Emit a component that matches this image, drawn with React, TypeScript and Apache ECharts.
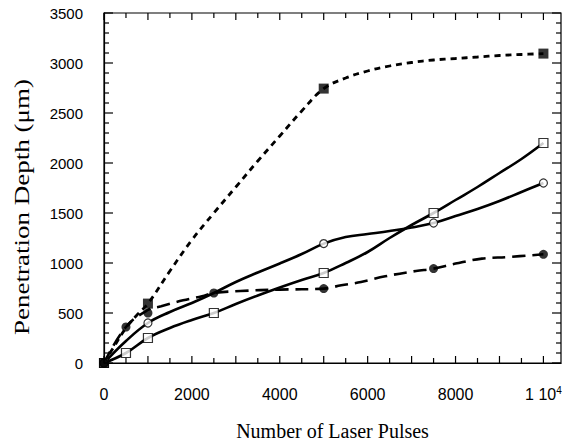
import React, { useEffect, useRef } from "react";
import * as echarts from "echarts";

// Marker data
const filledSquareX = [0, 1000, 5000, 10000];
const filledSquareY = [0, 594, 2744, 3094];

const openSquareX = [0, 500, 1000, 2500, 5000, 7500, 10000];
const openSquareY = [0, 100, 250, 500, 900, 1500, 2200];

const openCircleX = [0, 1000, 5000, 7500, 10000];
const openCircleY = [0, 400, 1194, 1400, 1800];

const filledCircleX = [0, 500, 1000, 2500, 5000, 7500, 10000];
const filledCircleY = [0, 360, 500, 700, 744, 944, 1087];

// Fitted curves
const dottedCurveX = [0, 250, 500, 750, 1000, 1500, 2000, 2500, 3000, 3500, 4000, 4500, 5000, 5500, 6000, 6500, 7000, 7500, 8000, 8500, 9000, 9500, 10000];
const dottedCurveY = [0, 180, 350, 480, 594, 920, 1230, 1500, 1760, 2020, 2270, 2520, 2744, 2850, 2920, 2970, 3005, 3030, 3045, 3060, 3075, 3085, 3094];

const squareCurveX = [0, 500, 1000, 1500, 2000, 2500, 3000, 3500, 4000, 4500, 5000, 5500, 6000, 6500, 7000, 7500, 8000, 8500, 9000, 9500, 10000];
const squareCurveY = [0, 100, 250, 350, 430, 500, 590, 675, 755, 830, 900, 1000, 1110, 1250, 1380, 1500, 1630, 1760, 1900, 2040, 2200];

const circleCurveX = [0, 500, 1000, 1500, 2000, 2500, 3000, 3500, 4000, 4500, 5000, 5500, 6000, 6500, 7000, 7500, 8000, 8500, 9000, 9500, 10000];
const circleCurveY = [0, 220, 400, 510, 600, 700, 810, 905, 995, 1090, 1194, 1260, 1290, 1320, 1355, 1400, 1470, 1540, 1620, 1710, 1800];

const dashedCurveX = [0, 500, 1000, 1300, 1800, 2230, 2500, 3100, 4000, 5000, 5400, 5850, 6400, 7100, 7500, 8000, 8600, 9200, 10000];
const dashedCurveY = [0, 360, 530, 567, 627, 667, 700, 720, 734, 744, 777, 810, 867, 920, 944, 994, 1044, 1060, 1087];

// Axis values
const X_MAX = 10400;
const Y_MAX = 3500;
const xLabelValues = [0, 2000, 4000, 6000, 8000, 10000];
const xTickValues = [0, 500, 1000, 1500, 2000, 2500, 3000, 3500, 4000, 4500, 5000, 5500, 6000, 6500, 7000, 7500, 8000, 8500, 9000, 9500, 10000];
const yTickValues = Array.from({ length: 36 }, (_, i) => i * 100);

const zip = (xs: number[], ys: number[]) => xs.map((x, i) => [x, ys[i]]);

const SERIF = '"Liberation Serif", "Times New Roman", serif';
const SANS = '"Liberation Sans", Arial, sans-serif';

export default function App() {
  const ref = useRef<HTMLDivElement>(null);
  useEffect(() => {
    const chart = echarts.init(ref.current!, null, { renderer: "svg" });
    const lineBase = (xs: number[], ys: number[], lineStyle: any): any => ({
      type: "line",
      showSymbol: false,
      symbol: "none",
      smooth: 0.4,
      z: 2,
      data: zip(xs, ys),
      lineStyle,
    });
    const option: any = {
      animation: false,
      grid: {
        left: 104,
        right: 2,
        top: 13,
        bottom: 80,
        containLabel: false,
        outerBoundsMode: "none",
      },
      xAxis: {
        type: "value",
        min: 0,
        max: X_MAX,
        interval: 500,
        splitLine: { show: false },
        axisLine: { show: true, onZero: false, lineStyle: { color: "#000", width: 1.2 } },
        axisTick: { show: false },
        axisLabel: {
          show: true,
          margin: 22,
          hideOverlap: false,
          showMaxLabel: false,
          formatter: (v: number) =>
            xLabelValues.indexOf(v) < 0 ? "" : v === 10000 ? "{b|1 10}{s|4}" : "{b|" + v + "}",
          rich: {
            b: { fontSize: 16, fontFamily: SANS, color: "#000", lineHeight: 18 },
            s: { fontSize: 10, fontFamily: SANS, color: "#000", verticalAlign: "top", lineHeight: 18, padding: [0, 0, 10, 0] },
          },
        },
        name: "Number of Laser Pulses",
        nameLocation: "middle",
        nameGap: 58,
        nameTextStyle: { fontFamily: SERIF, fontSize: 20, color: "#000" },
      },
      yAxis: {
        type: "value",
        min: 0,
        max: Y_MAX,
        interval: 500,
        splitLine: { show: false },
        axisLine: { show: true, onZero: false, lineStyle: { color: "#000", width: 1.2 } },
        axisTick: { show: false },
        minorTick: { show: false },
        axisLabel: { show: true, margin: 21, fontSize: 15, fontFamily: SANS, color: "#000", formatter: (v: number) => String(v) },
      },
      series: [
        lineBase(dottedCurveX, dottedCurveY, { color: "#000", width: 2.8, type: [6, 5] }),
        lineBase(squareCurveX, squareCurveY, { color: "#000", width: 2.6 }),
        lineBase(circleCurveX, circleCurveY, { color: "#000", width: 2.6 }),
        lineBase(dashedCurveX, dashedCurveY, { color: "#000", width: 2.6, type: [13, 7] }),
        {
          type: "scatter", z: 5, symbol: "rect", symbolSize: 9,
          data: zip(openSquareX, openSquareY),
          itemStyle: { color: "#fff", borderColor: "#000", borderWidth: 1.2 },
        },
        {
          type: "scatter", z: 5, symbol: "circle", symbolSize: 8,
          data: zip(openCircleX, openCircleY),
          itemStyle: { color: "#fff", borderColor: "#000", borderWidth: 1.2 },
        },
        {
          type: "scatter", z: 6, symbol: "circle", symbolSize: 9,
          data: zip(filledCircleX, filledCircleY),
          itemStyle: { color: "#000" },
        },
        {
          type: "scatter", z: 7, symbol: "rect", symbolSize: 10,
          data: zip(filledSquareX, filledSquareY),
          itemStyle: { color: "#000" },
        },
      ],
    };
    chart.setOption(option);

    // Frame and inward ticks on all four sides, positioned through the chart's own scales
    const toPx = (x: number, y: number) => chart.convertToPixel({ gridIndex: 0 }, [x, y]) as number[];
    const [x0, y0] = toPx(0, 0);
    const [x1, y1] = toPx(X_MAX, Y_MAX);
    const stroke = { stroke: "#000", lineWidth: 1.2 };
    const els: any[] = [
      {
        type: "rect",
        z: 100,
        shape: { x: x0, y: y1, width: x1 - x0, height: y0 - y1 },
        style: { fill: "none", ...stroke },
      },
    ];
    xTickValues.forEach((v) => {
      const xp = toPx(v, 0)[0];
      const len = v % 1000 === 0 ? 7 : 5;
      els.push({ type: "line", z: 100, shape: { x1: xp, y1: y0, x2: xp, y2: y0 - len }, style: stroke });
      els.push({ type: "line", z: 100, shape: { x1: xp, y1: y1, x2: xp, y2: y1 + len }, style: stroke });
    });
    yTickValues.forEach((v) => {
      const yp = toPx(0, v)[1];
      const len = v % 500 === 0 ? 9 : 5;
      els.push({ type: "line", z: 100, shape: { x1: x0, y1: yp, x2: x0 + len, y2: yp }, style: stroke });
      els.push({ type: "line", z: 100, shape: { x1: x1, y1: yp, x2: x1 - len, y2: yp }, style: stroke });
    });
    els.push({
      type: "text",
      z: 100,
      x: 22,
      y: 207,
      rotation: Math.PI / 2,
      scaleX: 1.35,
      style: {
        text: "Penetration Depth (μm)",
        fontFamily: SERIF,
        fontSize: 20,
        fill: "#000",
        align: "center",
        verticalAlign: "middle",
      },
    });
    chart.setOption({ graphic: els });
    return () => chart.dispose();
  }, []);
  return (
    <div
      ref={ref}
      style={{ position: "fixed", left: 0, top: 0, width: 563, height: 443, background: "#fff" }}
    />
  );
}
